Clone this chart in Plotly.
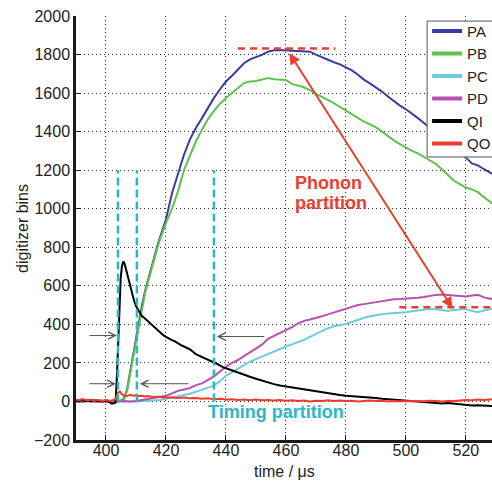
import plotly.graph_objects as go

# ---------------- data ----------------
pa_t = [390, 392, 394, 396, 398, 400, 402, 404, 405, 406, 407, 408, 409, 410, 411, 412, 413, 414, 415, 416,
        417, 418, 419, 420, 422, 424, 426, 428, 430, 432, 434, 436, 438, 440, 442, 444, 446, 448, 450, 452,
        454, 456, 458, 460, 462, 464, 466, 468, 470, 472, 474, 476, 478, 480, 482, 484, 486, 488, 490, 492,
        494, 496, 498, 500, 502, 504, 506, 508, 510, 512, 514, 516, 518, 520, 522, 524, 526, 528, 529]
pa_v = [5, 3, 6, 2, 4, 3, 0, 2, 5, 15, 60, 150, 240, 330, 420, 500, 570, 630, 690, 745,
        800, 850, 900, 945, 1080, 1180, 1280, 1360, 1420, 1470, 1525, 1575, 1620, 1660, 1690, 1725, 1755, 1775, 1785, 1798,
        1815, 1822, 1824, 1822, 1822, 1818, 1816, 1815, 1800, 1786, 1772, 1760, 1749, 1732, 1718, 1695, 1670, 1650, 1630, 1608,
        1582, 1556, 1535, 1516, 1495, 1470, 1445, 1420, 1395, 1370, 1345, 1320, 1295, 1265, 1235, 1225, 1205, 1188, 1180]

pb_t = pa_t
pb_v = [4, 6, 2, 5, 3, 5, 2, 0, 3, 10, 55, 140, 230, 320, 405, 485, 560, 620, 680, 735,
        790, 840, 885, 925, 1000, 1090, 1200, 1280, 1350, 1410, 1465, 1508, 1545, 1575, 1600, 1625, 1652, 1660, 1663, 1670,
        1678, 1672, 1670, 1668, 1648, 1638, 1630, 1615, 1595, 1580, 1565, 1548, 1528, 1508, 1490, 1470, 1452, 1438, 1422, 1400,
        1375, 1355, 1335, 1317, 1300, 1287, 1268, 1250, 1232, 1205, 1175, 1145, 1128, 1110, 1100, 1086, 1060, 1035, 1025]

pc_t = [390, 392, 394, 396, 398, 400, 402, 404, 406, 408, 410, 412, 414, 416, 418, 420, 422, 424, 426, 428,
        430, 432, 434, 436, 438, 440, 442, 444, 446, 448, 450, 452, 454, 456, 458, 460, 462, 464, 466, 468,
        470, 472, 474, 476, 478, 480, 482, 484, 486, 488, 490, 492, 494, 496, 498, 500, 502, 504, 506, 508,
        510, 512, 514, 516, 518, 520, 522, 524, 526, 528, 529]
pc_v = [0, -3, 2, -2, 0, -3, 0, 2, 0, -2, 0, 2, 3, 5, 8, 14, 20, 25, 32, 40,
        50, 63, 72, 82, 105, 133, 152, 172, 190, 206, 220, 232, 245, 258, 272, 285, 295, 308, 320, 335,
        352, 366, 380, 390, 396, 402, 412, 424, 434, 442, 448, 452, 456, 458, 460, 463, 468, 472, 476, 480,
        478, 473, 470, 474, 478, 480, 470, 463, 472, 480, 482]

pd_t = pc_t
pd_v = [0, -2, 2, 0, -3, 0, -2, 0, 2, 0, 2, 8, 14, 18, 22, 30, 42, 55, 62, 70,
        85, 94, 112, 130, 155, 180, 200, 215, 235, 255, 272, 295, 325, 340, 352, 366, 385, 405, 418, 425,
        432, 442, 452, 462, 470, 480, 492, 500, 505, 510, 515, 522, 526, 530, 531, 532, 535, 538, 542, 548,
        553, 555, 552, 548, 546, 545, 550, 553, 540, 532, 530]

qi_t = [390, 391, 392, 393, 394, 395, 396, 397, 398, 399, 400, 401, 402, 402.8, 403.2, 403.7, 404.2, 404.6, 404.9, 405.3,
        405.8, 406.2, 406.6, 407.0, 407.4, 408.0, 408.6, 409.4, 410.2, 411, 412, 413, 414, 415, 416, 417, 418, 419, 420,
        421, 422, 423, 424, 425, 426, 427, 428, 429, 430, 431, 432, 433, 434, 435, 436, 437, 438, 439, 440,
        442, 444, 446, 448, 450, 452, 454, 456, 458, 460, 462, 464, 466, 468, 470, 472, 474, 476, 478, 480,
        482, 484, 486, 488, 490, 492, 494, 496, 498, 500, 502, 504, 506, 508, 510, 512, 514, 516, 518, 520,
        522, 524, 526, 528, 529]
qi_v = [5, 0, 8, 3, 5, 0, 6, 2, 4, 0, 5, -2, -12, -8, -5, 150, 380, 560, 640, 700,
        727, 715, 690, 665, 644, 595, 558, 520, 488, 465, 443, 430, 415, 403, 390, 375, 360, 345, 335,
        325, 318, 312, 300, 292, 285, 278, 270, 258, 245, 238, 230, 225, 215, 208, 202, 195, 185, 178, 172,
        160, 148, 138, 128, 118, 108, 98, 90, 83, 78, 72, 66, 60, 56, 52, 48, 44, 38, 34, 30,
        28, 25, 24, 22, 18, 14, 12, 8, 6, 5, 2, 0, -3, -5, -8, -10, -8, -12, -15, -18,
        -21, -20, -22, -24, -24]

qo_t = [390, 391, 392, 393, 394, 395, 396, 397, 398, 399, 400, 401, 402, 403, 403.5, 404, 404.6, 405.2, 406, 407,
        408, 409, 410, 411, 412, 413, 414, 415, 416, 417, 418, 419, 420, 422, 424, 426, 428, 430, 432, 434,
        436, 438, 440, 442, 444, 446, 448, 450, 452, 454, 456, 458, 460, 462, 464, 466, 468, 470, 472, 474,
        476, 478, 480, 482, 484, 486, 488, 490, 492, 494, 496, 498, 500, 502, 504, 506, 508, 510, 512, 514,
        516, 518, 520, 522, 524, 526, 528, 529]
qo_v = [10, 5, 12, 8, 5, 10, 3, 8, 5, 2, 8, 3, 5, 10, 25, 45, 52, 38, 30, 28,
        35, 30, 32, 28, 30, 26, 28, 25, 22, 26, 24, 20, 22, 20, 18, 20, 16, 18, 14, 16,
        12, 14, 10, 12, 8, 10, 6, 10, 6, 8, 5, 8, 4, 6, 2, 5, 0, 4, 2, 6,
        3, 5, 2, 4, 0, 3, 5, 2, 4, 0, 3, 1, 2, 0, 3, 1, 4, 2, 0, 3,
        2, 5, 8, 6, 10, 8, 12, 12]

series_names = ["PA", "PB", "PC", "PD", "QI", "QO"]
series_t = [pa_t, pb_t, pc_t, pd_t, qi_t, qo_t]
series_v = [pa_v, pb_v, pc_v, pd_v, qi_v, qo_v]
series_colors = ["#3a3d9f", "#5cc44b", "#6ecbdc", "#b552b1", "#000000", "#ee3b2c"]

x_ticks = [400, 420, 440, 460, 480, 500, 520]
y_ticks = [-200, 0, 200, 400, 600, 800, 1000, 1200, 1400, 1600, 1800, 2000]

# annotation values
timing_marks = [404, 410.3, 436]
timing_top = 1200
pa_peak_line = [444, 476.5, 1832]      # x0, x1, y
pc_plateau_line = [497.8, 529, 489]    # x0, x1, y
phonon_arrow = [460.8, 1815, 515.5, 484]  # x_start, y_start, x_end, y_end
gray_arrows = [  # tail x, head x, y
    (394.0, 403.6, 342),
    (394.0, 403.3, 92),
    (428.0, 411.3, 92),
    (453.3, 436.9, 337),
]

RED = "#e8402f"
CYAN = "#2ab8c2"
FONT = "Liberation Sans, Arial, Helvetica, sans-serif"

fig = go.Figure()
for name, t, v, c in zip(series_names, series_t, series_v, series_colors):
    fig.add_trace(go.Scatter(x=t, y=v, mode="lines", name=name, showlegend=False,
                             line=dict(color=c, width=2), hoverinfo="skip"))
# legend entries (thicker sample lines)
for name, c in zip(series_names, series_colors):
    fig.add_trace(go.Scatter(x=[None], y=[None], mode="lines", name=name,
                             line=dict(color=c, width=4)))

# dashed timing lines
for xm in timing_marks:
    fig.add_shape(type="line", x0=xm, x1=xm, y0=0, y1=timing_top, xref="x", yref="y",
                  line=dict(color=CYAN, width=2.5, dash="8px,4px"))
# red dashed reference levels
for x0, x1, yv in (pa_peak_line, pc_plateau_line):
    fig.add_shape(type="line", x0=x0, x1=x1, y0=yv, y1=yv, xref="x", yref="y",
                  line=dict(color=RED, width=2.5, dash="7px,5px"))
# legend box (runs past the right edge of the picture, as in the reference)
fig.add_shape(type="rect", xref="paper", yref="paper", x0=0.844, x1=1.2, y0=0.6675, y1=0.988,
              fillcolor="white", line=dict(color="#555555", width=1), layer="above")

annotations = []
# double-headed red arrow
annotations.append(dict(x=phonon_arrow[2], y=phonon_arrow[3], ax=phonon_arrow[0], ay=phonon_arrow[1],
                        xref="x", yref="y", axref="x", ayref="y", text="", showarrow=True,
                        arrowside="end+start", arrowhead=2, startarrowhead=2,
                        arrowsize=1.1, startarrowsize=1.1, arrowwidth=2, arrowcolor=RED))
# gray timing arrows
for tail, head, yv in gray_arrows:
    annotations.append(dict(x=head, y=yv, ax=tail, ay=yv, xref="x", yref="y", axref="x", ayref="y",
                            text="", showarrow=True, arrowhead=5, arrowsize=1.4, arrowwidth=1,
                            arrowcolor="#555555"))
# texts
annotations.append(dict(x=462.3, y=1134, xref="x", yref="y", text="<b>Phonon</b>", showarrow=False,
                        xanchor="left", yanchor="middle", font=dict(family=FONT, size=18, color=RED)))
annotations.append(dict(x=462.3, y=1031, xref="x", yref="y", text="<b>partition</b>", showarrow=False,
                        xanchor="left", yanchor="middle", font=dict(family=FONT, size=18, color=RED)))
annotations.append(dict(x=433.3, y=-57, xref="x", yref="y", text="<b>Timing partition</b>", showarrow=False,
                        xanchor="left", yanchor="middle", font=dict(family=FONT, size=18, color=CYAN)))
# axis titles
annotations.append(dict(x=-0.13, y=0.5, xref="paper", yref="paper", text="digitizer bins", textangle=-90,
                        showarrow=False, xanchor="center", yanchor="middle",
                        font=dict(family=FONT, size=16, color="#222222")))
annotations.append(dict(x=0.5, y=-0.075, xref="paper", yref="paper", text="time / μs",
                        showarrow=False, xanchor="center", yanchor="middle",
                        font=dict(family=FONT, size=16, color="#222222")))

axis_common = dict(showline=True, linecolor="#1a1a1a", linewidth=2.5, ticks="inside", ticklen=5,
                   tickwidth=1, tickcolor="#1a1a1a", showgrid=True, gridcolor="#333333", gridwidth=1,
                   griddash="1px,3px", zeroline=False, mirror=False,
                   tickfont=dict(family=FONT, size=16, color="#222222"))

fig.update_layout(
    width=492, height=481,
    margin=dict(l=76, r=0, t=16, b=41, pad=0, autoexpand=False),
    paper_bgcolor="white", plot_bgcolor="white",
    font=dict(family=FONT, size=16, color="#222222"),
    xaxis=dict(range=[390, 528.7], tickvals=x_ticks, ticklabelstandoff=-6, **axis_common),
    yaxis=dict(range=[-200, 2000], tickvals=y_ticks, **axis_common),
    legend=dict(x=0.844, y=1.003, xanchor="left", yanchor="top", bgcolor="rgba(0,0,0,0)",
                borderwidth=0, font=dict(family=FONT, size=15, color="#222222")),
    annotations=annotations,
    showlegend=True,
)

fig.write_html("out.html")
